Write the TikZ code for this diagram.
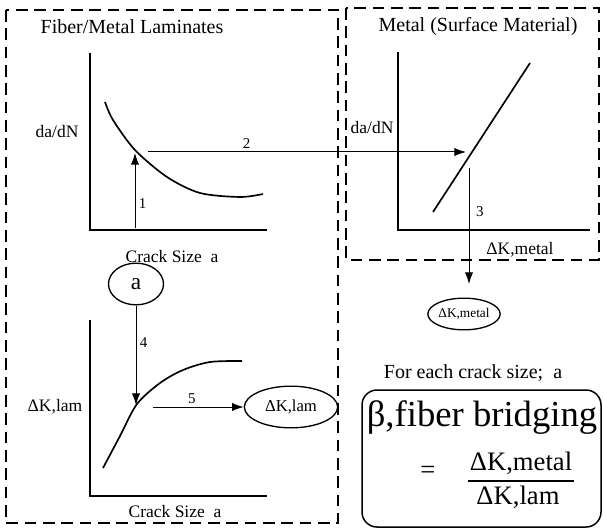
\documentclass[tikz,border=0pt]{standalone}
\usepackage{fontspec}
\setmainfont{Liberation Serif}
\usepackage{tikz}
\usetikzlibrary{
	arrows.meta,
	calc,
	shapes.geometric,
	positioning
}

\begin{document}
\begin{tikzpicture}[x=0.6pt, y=-0.6pt,
		panel/.style={line width=0.9pt, dash pattern=on 7pt off 4pt},
		axis/.style={line width=1.2pt},
		curve/.style={line width=1pt},
		link/.style={line width=0.6pt, -{Latex[length=7pt,width=5pt]}},
		bubble/.style={draw, ellipse, line width=0.8pt, inner sep=0pt},
		title/.style={font=\fontsize{12}{14}\selectfont},
		lbl/.style={font=\fontsize{10.5}{12}\selectfont},
		num/.style={font=\fontsize{9}{11}\selectfont, inner sep=2pt}]
		\useasboundingbox (0,0) rectangle (603,531);
		% the two dashed panels
		\draw[panel] (6,10) rectangle (338,523);
		\draw[panel] (346,8) rectangle (599,260);
		\node[title] (lamtitle) at (132,27) {Fiber/Metal Laminates};
		\node[title] (mettitle) at (478,27) {Metal (Surface Material)};
		% laminate: da/dN against crack size
		\begin{scope}
			\draw[axis] (90,53) -- (90,230) -- (267,230);
			\node[lbl] (dadnlam) at (57,132) {da/dN};
			\node[lbl] (sizeup) at (172,257) {Crack Size\ \ a};
			\draw[curve] plot[smooth] coordinates {(105,102) (113,120) (135,150) (167,177) (200,193) (240,197) (263,194)};
		\end{scope}
		% metal: da/dN against dK
		\begin{scope}
			\draw[axis] (398,52) -- (398,230) -- (590,230);
			\node[lbl] (dadnmet) at (372,128) {da/dN};
			\node[lbl] (dkaxis) at (520,250) {ΔK,metal};
			\draw[curve] (433,212) -- (530,63);
		\end{scope}
		% laminate: dK against crack size
		\begin{scope}
			\draw[axis] (90,320) -- (90,496) -- (267,496);
			\node[lbl] (dklamaxis) at (55,407) {ΔK,lam};
			\node[lbl] (sizelow) at (175,512) {Crack Size\ \ a};
			\draw[curve] plot[smooth] coordinates {(103,468) (120,436) (137,404) (160,383) (183,370) (210,362) (242,361)};
		\end{scope}
		% bubbles
		\node[bubble, minimum width=33pt, minimum height=25pt, font=\fontsize{14}{16}\selectfont] (size) at (136,284) {a};
		\node[bubble, minimum width=56pt, minimum height=25pt, font=\fontsize{10}{12}\selectfont] (dklam) at (291,407) {ΔK,lam};
		\node[bubble, minimum width=36pt, minimum height=19pt, font=\fontsize{8}{10}\selectfont] (dkmet) at (464,314) {ΔK,metal};
		% steps 1 to 5
		\coordinate (s1a) at (135,228);
		\coordinate (s1b) at (135,153);
		\coordinate (s2a) at (148,152);
		\coordinate (s2b) at (466,152);
		\coordinate (s3a) at (469,168);
		\coordinate (s3b) at (469,284);
		\coordinate (s4b) at (136,405);
		\coordinate (s5a) at (153,407);
		\draw[link] (s1a) -- (s1b) node[num, pos=0.32, right] {1};
		\draw[link] (s2a) -- (s2b) node[num, pos=0.31, above] {2};
		\draw[link] (s3a) -- (s3b) node[num, pos=0.38, right=2pt] {3};
		\draw[link] (size) -- (s4b) node[num, pos=0.37, right] {4};
		\draw[link] (s5a) -- (dklam) node[num, pos=0.43, above] {5};
		% result
		\node[title] (each) at (473,373) {For each crack size;\ \ a};
		\node[draw, rounded corners=9pt, line width=0.9pt, minimum width=143.4pt, minimum height=82.2pt] (bridge) at (481.5,458.5) {};
		\node[font=\fontsize{22}{26}\selectfont] (beta) at (482,418) {β,fiber bridging};
		\node[font=\fontsize{16}{18}\selectfont] (eq) at (428,472) {=};
		\node[font=\fontsize{16}{18}\selectfont, inner sep=1pt] (numer) at (521,463) {ΔK,metal};
		\node[font=\fontsize{16}{18}\selectfont, inner sep=1pt] (denom) at (518,497) {ΔK,lam};
		\draw[line width=1.1pt] ([yshift=-3pt]numer.south west) -- ([yshift=-3pt]numer.south east);
	\end{tikzpicture}
\end{document}
